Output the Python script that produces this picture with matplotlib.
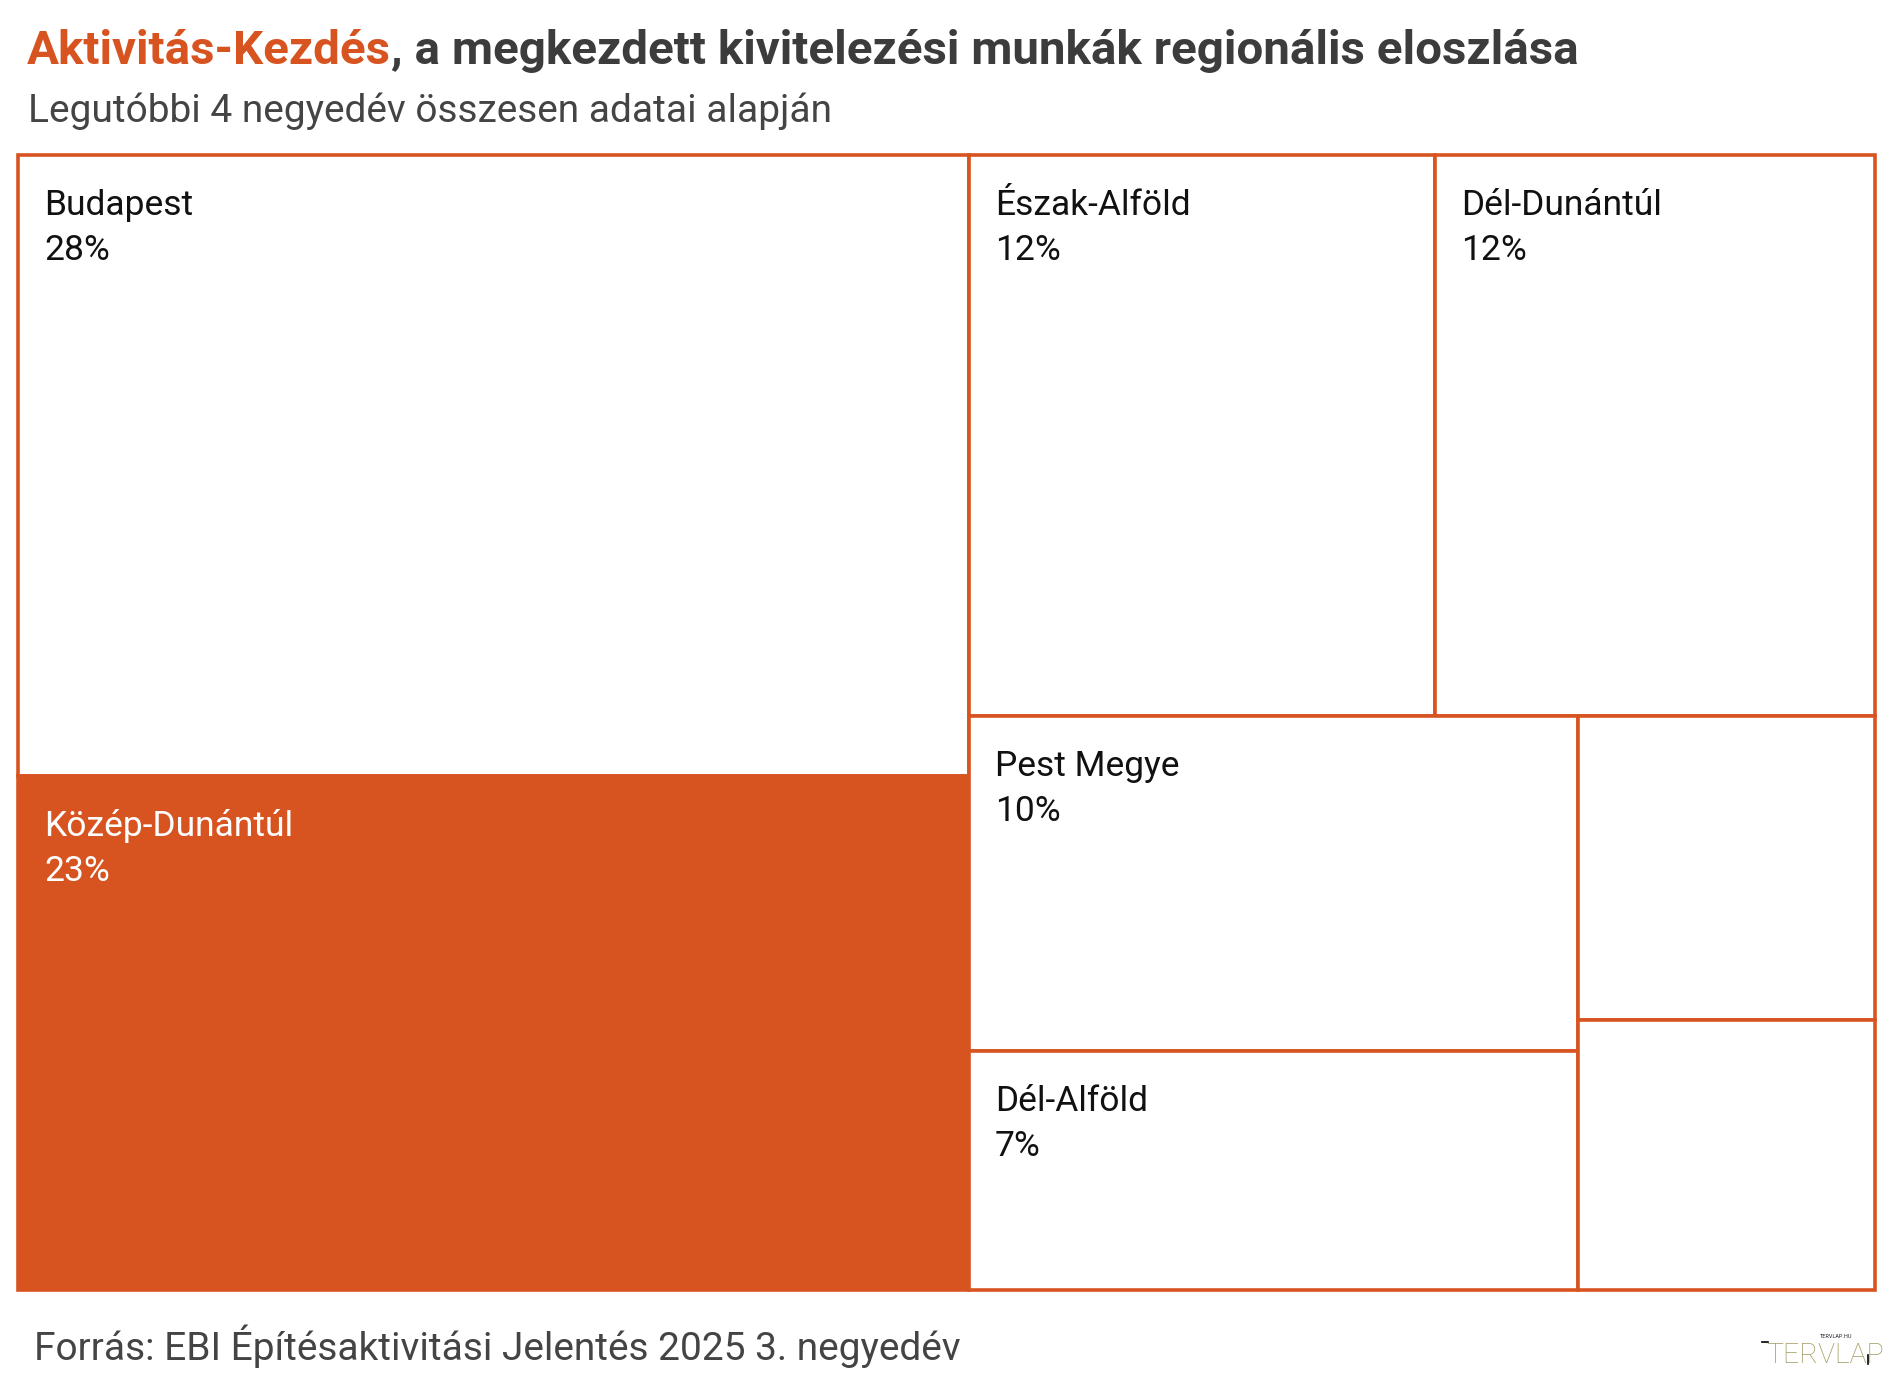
import matplotlib
matplotlib.use("Agg")
import matplotlib.pyplot as plt
from matplotlib.patches import Rectangle
from matplotlib.lines import Line2D

# ---- data ----
regions = ["Budapest", "Közép-Dunántúl", "Észak-Alföld", "Dél-Dunántúl",
           "Pest Megye", "Dél-Alföld", "Nyugat-Dunántúl", "Észak-Magyarország"]
shares = [28.0, 23.2, 12.4, 11.7, 9.7, 6.9, 4.3, 3.8]
highlight = "Közép-Dunántúl"
label_min = 5.0

title_hl = "Aktivitás-Kezdés"
title_rest = ", a megkezdett kivitelezési munkák regionális eloszlása"
subtitle = "Legutóbbi 4 negyedév összesen adatai alapján"
source = "Forrás: EBI Építésaktivitási Jelentés 2025 3. negyedév"

ORANGE = "#D75421"
DARK = "#3c3c3c"
W_PX, H_PX = 1900, 1385


def squarify(values, x0, y0, x1, y1, ratio=(1 + 5 ** 0.5) / 2):
    """d3-style squarified treemap (y grows downward)."""
    rects = [None] * len(values)
    n = len(values)
    i0 = i1 = 0
    value = float(sum(values))
    while i0 < n:
        dx, dy = x1 - x0, y1 - y0
        sumv = values[i1]
        i1 += 1
        minv = maxv = sumv
        alpha = max(dy / dx, dx / dy) / (value * ratio)
        beta = sumv * sumv * alpha
        minr = max(maxv / beta, beta / minv)
        while i1 < n:
            v = values[i1]
            s = sumv + v
            mn, mx = min(minv, v), max(maxv, v)
            beta = s * s * alpha
            nr = max(mx / beta, beta / mn)
            if nr > minr:
                break
            sumv, minv, maxv, minr = s, mn, mx, nr
            i1 += 1
        if dx < dy:
            h = dy * sumv / value
            x = x0
            for i in range(i0, i1):
                w = dx * values[i] / sumv
                rects[i] = (x, y0, w, h)
                x += w
            y0 += h
        else:
            w = dx * sumv / value
            y = y0
            for i in range(i0, i1):
                h = dy * values[i] / sumv
                rects[i] = (x0, y, w, h)
                y += h
            x0 += w
        value -= sumv
        i0 = i1
    return rects


plt.rcParams["font.family"] = ["Roboto", "DejaVu Sans"]
fig = plt.figure(figsize=(W_PX / 100, H_PX / 100), dpi=100)
fig.patch.set_facecolor("white")

# treemap area in pixels
L, T, R, B = 18, 155, 1875, 1290
AW, AH = R - L, B - T
ax = fig.add_axes([L / W_PX, 1 - B / H_PX, AW / W_PX, AH / H_PX])
ax.set_xlim(0, AW)
ax.set_ylim(AH, 0)
ax.axis("off")

rects = squarify(shares, 0, 0, AW, AH)
for name, val, (x, y, w, h) in zip(regions, shares, rects):
    hl = name == highlight
    ax.add_patch(Rectangle((x, y), w, h, facecolor=ORANGE if hl else "white",
                           edgecolor=ORANGE, linewidth=2.6, clip_on=False))
    if val >= label_min:
        col = "white" if hl else "#111111"
        ax.text(x + 26, y + 60, name, fontsize=25.5, color=col, va="baseline", ha="left")
        ax.text(x + 26, y + 105, f"{val:.0f}%", fontsize=25.5, color=col, va="baseline", ha="left")

# title
t1 = fig.text(27 / W_PX, 1 - 64 / H_PX, title_hl, fontsize=34.2, fontweight="bold",
              color=ORANGE, va="baseline", ha="left")
fig.canvas.draw()
bb = t1.get_window_extent()
fig.text(bb.x1 / W_PX, 1 - 64 / H_PX, title_rest, fontsize=34.2, fontweight="bold",
         color=DARK, va="baseline", ha="left")
fig.text(28 / W_PX, 1 - 122 / H_PX, subtitle, fontsize=28, color="#444444",
         va="baseline", ha="left")
fig.text(34 / W_PX, 1 - 1360 / H_PX, source, fontsize=28, color="#444444",
         va="baseline", ha="left")

# logo
fig.text(1766 / W_PX, 1 - 1363 / H_PX, "TERVLAP", fontsize=20.5, fontweight="light",
         color="#A39A62", va="baseline", ha="left")
fig.text(1820 / W_PX, 1 - 1338 / H_PX, "TERVLAP.HU", fontsize=4, color="#222222",
         va="baseline", ha="left")
fig.add_artist(Line2D([1762 / W_PX, 1768 / W_PX], [1 - 1342 / H_PX] * 2,
                      color="black", lw=1.2, transform=fig.transFigure))
fig.add_artist(Line2D([1868 / W_PX] * 2, [1 - 1355 / H_PX, 1 - 1364 / H_PX],
                      color="black", lw=1.2, transform=fig.transFigure))

fig.savefig("out.png", dpi=100, facecolor="white")
